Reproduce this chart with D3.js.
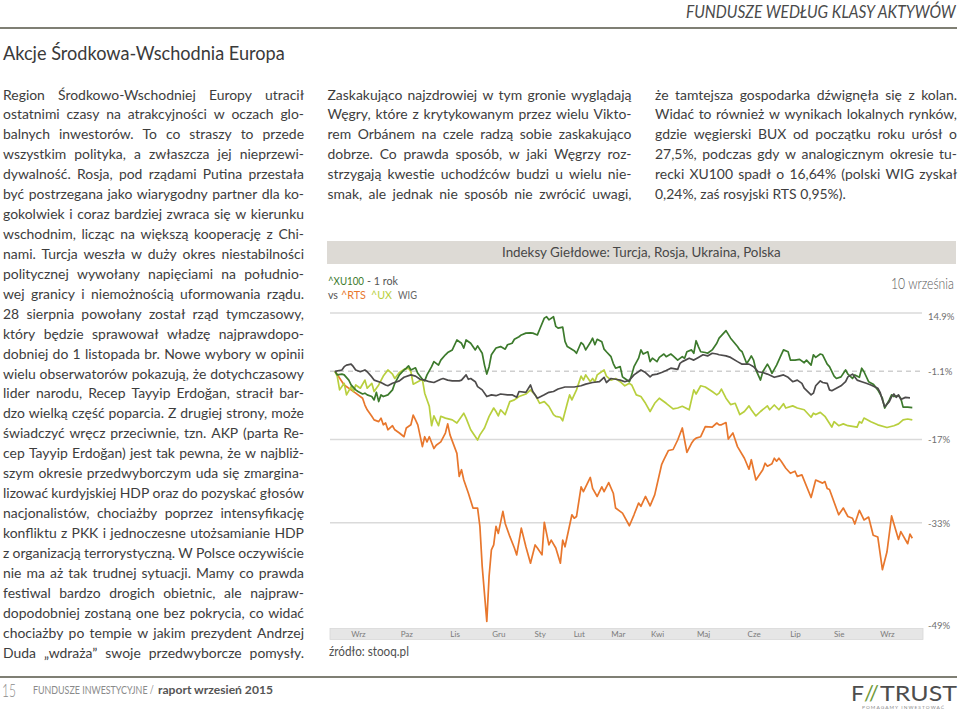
<!DOCTYPE html>
<html><head><meta charset="utf-8">
<script src="https://cdn.jsdelivr.net/npm/d3@7"></script>
<style>body{margin:0;background:#fff} svg{display:block} text{font-family:Lato,"Open Sans",sans-serif}</style>
</head><body><script>
// ---------- texts ----------
const headerTitle = "FUNDUSZE WEDŁUG KLASY AKTYWÓW";
const sectionTitle = "Akcje Środkowa-Wschodnia Europa";
const chartTitle = "Indeksy Giełdowe: Turcja, Rosja, Ukraina, Polska";
const dateLabel = "10 września";
const sourceLabel = "źródło: stooq.pl";
const seriesNames = ["^XU100", "^RTS", "^UX", "WIG"];
const leftLines = [
"Region Środkowo-Wschodniej Europy utracił",
"ostatnimi czasy na atrakcyjności w oczach glo-",
"balnych inwestorów. To co straszy to przede",
"wszystkim polityka, a zwłaszcza jej nieprzewi-",
"dywalność. Rosja, pod rządami Putina przestała",
"być postrzegana jako wiarygodny partner dla ko-",
"gokolwiek i coraz bardziej zwraca się w kierunku",
"wschodnim, licząc na większą kooperację z Chi-",
"nami. Turcja weszła w duży okres niestabilności",
"politycznej wywołany napięciami na południo-",
"wej granicy i niemożnością uformowania rządu.",
"28 sierpnia powołany został rząd tymczasowy,",
"który będzie sprawował władzę najprawdopo-",
"dobniej do 1 listopada br. Nowe wybory w opinii",
"wielu obserwatorów pokazują, że dotychczasowy",
"lider narodu, Recep Tayyip Erdoğan, stracił bar-",
"dzo wielką część poparcia. Z drugiej strony, może",
"świadczyć wręcz przeciwnie, tzn. AKP (parta Re-",
"cep Tayyip Erdoğan) jest tak pewna, że w najbliż-",
"szym okresie przedwyborczym uda się zmargina-",
"lizować kurdyjskiej HDP oraz do pozyskać głosów",
"nacjonalistów, chociażby poprzez intensyfikację",
"konfliktu z PKK i jednoczesne utożsamianie HDP",
"z organizacją terrorystyczną. W Polsce oczywiście",
"nie ma aż tak trudnej sytuacji. Mamy co prawda",
"festiwal bardzo drogich obietnic, ale najpraw-",
"dopodobniej zostaną one bez pokrycia, co widać",
"chociażby po tempie w jakim prezydent Andrzej",
"Duda „wdraża” swoje przedwyborcze pomysły."];
const midLines = [
"Zaskakująco najzdrowiej w tym gronie wyglądają",
"Węgry, które z krytykowanym przez wielu Vikto-",
"rem Orbánem na czele radzą sobie zaskakująco",
"dobrze. Co prawda sposób, w jaki Węgrzy roz-",
"strzygają kwestie uchodźców budzi u wielu nie-",
"smak, ale jednak nie sposób nie zwrócić uwagi,"];
const rightLines = [
"że tamtejsza gospodarka dźwignęła się z kolan.",
"Widać to również w wynikach lokalnych rynków,",
"gdzie węgierski BUX od początku roku urósł o",
"27,5%, podczas gdy w analogicznym okresie tu-",
"recki XU100 spadł o 16,64% (polski WIG zyskał",
"0,24%, zaś rosyjski RTS 0,95%)."];

// ---------- chart data: [session index, % change] ----------
const yTicks = [14.9, -1.1, -17, -33, -49];
const monthLabels = ["Wrz","Paz","Lis","Gru","Sty","Lut","Mar","Kwi","Maj","Cze","Lip","Sie","Wrz"];
const monthPos = [10,31,52,71,89,106,123,140,160,182,200,219,240];

const xu100 = [[0,-1.1],[1,-2.0],[3,-1.8],[4,-2.0],[6,-3.3],[7,-4.5],[9,-5.7],[10,-6.1],[12,-6.7],[13,-6.5],[14,-6.9],[16,-7.3],[17,-8.1],[18,-6.3],[19,-8.5],[20,-6.9],[21,-7.3],[23,-6.9],[25,-5.7],[26,-4.1],[28,-2.0],[30,-0.75],[31,-0.3],[32,0.3],[33,-0.75],[35,-0.2],[36,-1.6],[38,-3.1],[39,-3.5],[40,-2.0],[42,0.1],[43,1.4],[45,0.5],[46,1.8],[48,3.2],[49,3.8],[51,4.5],[53,7.2],[55,6.3],[56,5.0],[57,7.2],[59,6.3],[61,4.5],[62,5.6],[64,3.6],[65,0.5],[66,-1.8],[67,0.1],[68,3.2],[70,5.0],[72,5.4],[74,4.7],[75,5.9],[77,6.3],[78,7.4],[80,8.1],[81,8.6],[83,9.1],[85,9.2],[86,9.1],[88,8.6],[89,10.2],[91,13.4],[92,13.8],[93,12.9],[95,13.8],[96,11.0],[97,10.5],[99,10.8],[100,6.8],[101,5.4],[104,4.3],[105,3.6],[107,6.5],[108,5.9],[109,4.5],[111,6.5],[112,7.7],[113,5.9],[114,7.4],[116,6.7],[117,4.7],[118,4.0],[120,2.7],[121,0.9],[122,-0.3],[124,0.1],[125,-2.5],[126,-2.9],[128,-3.7],[129,-2.0],[130,0.1],[132,2.3],[133,4.5],[134,3.4],[136,4.0],[137,1.4],[138,2.3],[140,1.4],[141,2.5],[143,3.4],[144,2.7],[146,3.4],[147,2.9],[149,1.8],[151,2.7],[152,2.3],[153,4.0],[155,4.5],[156,3.6],[157,7.0],[158,5.4],[159,4.0],[161,3.8],[162,3.6],[164,4.5],[166,6.3],[167,7.7],[170,9.8],[172,7.7],[175,5.4],[176,4.5],[177,4.0],[179,0.9],[180,1.8],[181,2.9],[182,1.8],[183,-0.75],[185,-3.3],[186,-1.2],[188,0.75],[189,-0.3],[190,-1.6],[192,0.5],[194,3.2],[195,4.5],[197,4.0],[198,1.8],[200,1.8],[202,2.0],[204,1.1],[205,1.8],[207,0.5],[208,3.2],[209,2.5],[211,3.4],[212,3.2],[214,0.75],[215,0.1],[217,-2.3],[218,-2.9],[220,-2.5],[222,-0.75],[223,-1.8],[225,-2.9],[226,-2.0],[228,-2.6],[229,-0.3],[230,-1.2],[232,-3.7],[234,-4.3],[236,-5.7],[238,-7.7],[239,-10.0],[241,-8.1],[242,-6.9],[243,-7.3],[245,-7.1],[246,-7.7],[247,-9.8],[249,-9.8],[251,-9.9]];

const rts = [[0,-1.1],[4,-4.5],[7,-5.7],[9,-6.5],[12,-7.7],[13,-9.3],[14,-10.4],[16,-11.9],[17,-12.7],[19,-13.1],[20,-12.3],[21,-13.8],[22,-13.4],[23,-14.9],[25,-14.0],[26,-14.9],[28,-15.6],[30,-16.4],[31,-14.5],[33,-13.8],[34,-11.6],[35,-12.7],[36,-13.8],[38,-18.5],[39,-16.4],[40,-17.5],[41,-16.4],[43,-18.9],[44,-18.2],[46,-17.5],[48,-15.6],[49,-13.6],[50,-16.0],[53,-19.9],[54,-24.5],[55,-23.2],[56,-25.2],[58,-27.7],[60,-30.4],[62,-30.4],[63,-33.6],[64,-40.1],[66,-48.0],[67,-41.6],[68,-37.5],[69,-36.7],[70,-33.6],[71,-34.8],[73,-31.0],[74,-33.1],[76,-35.3],[78,-37.2],[79,-38.3],[81,-33.9],[83,-37.0],[85,-39.6],[87,-36.7],[88,-37.2],[90,-38.3],[91,-32.9],[93,-36.7],[94,-35.9],[96,-37.2],[98,-39.6],[99,-35.9],[100,-37.0],[103,-31.6],[104,-32.2],[105,-31.9],[107,-26.5],[108,-27.4],[111,-24.7],[112,-26.8],[114,-28.3],[116,-26.5],[117,-27.4],[119,-25.7],[121,-27.7],[122,-30.4],[125,-31.3],[128,-33.5],[130,-31.6],[132,-29.5],[133,-30.1],[135,-28.3],[137,-30.0],[139,-28.0],[142,-22.2],[143,-21.2],[145,-19.3],[147,-19.1],[149,-17.1],[151,-14.5],[153,-19.7],[155,-17.8],[156,-17.1],[157,-16.7],[159,-16.4],[161,-14.2],[164,-14.3],[166,-13.4],[167,-13.8],[168,-13.8],[170,-13.3],[171,-16.9],[173,-15.6],[175,-18.5],[178,-20.9],[180,-23.1],[181,-21.2],[183,-25.2],[186,-23.2],[187,-21.9],[188,-22.5],[190,-22.0],[191,-20.9],[192,-21.5],[193,-20.9],[194,-21.5],[196,-22.9],[198,-23.9],[200,-23.5],[201,-24.5],[203,-24.2],[207,-28.5],[209,-25.2],[212,-25.8],[213,-25.5],[214,-26.8],[215,-27.0],[219,-31.6],[221,-30.4],[223,-31.9],[225,-32.2],[226,-33.2],[228,-30.8],[230,-32.5],[232,-32.0],[234,-35.1],[236,-35.4],[238,-40.6],[240,-37.8],[242,-31.8],[245,-35.8],[246,-34.5],[249,-36.5],[250,-34.9],[251,-35.6]];

const ux = [[0,-1.1],[1,-2.4],[2,-5.7],[4,-4.1],[5,-6.9],[7,-4.9],[8,-6.1],[9,-4.5],[11,-5.3],[13,-3.3],[14,-5.3],[16,-4.1],[17,-6.1],[19,-4.5],[21,-2.3],[23,-0.75],[25,-1.8],[26,-2.9],[28,-1.4],[30,-0.6],[32,-0.3],[33,-1.2],[34,-4.3],[36,-3.7],[38,-3.1],[39,-6.5],[41,-9.6],[42,-14.0],[43,-11.8],[45,-14.0],[46,-11.9],[48,-12.3],[51,-12.7],[53,-13.4],[56,-11.2],[57,-12.3],[59,-14.9],[62,-17.1],[63,-16.0],[65,-14.5],[67,-11.9],[69,-10.0],[70,-10.8],[71,-11.8],[72,-10.4],[74,-11.5],[76,-8.5],[78,-8.1],[80,-7.3],[83,-6.7],[85,-5.7],[87,-6.9],[89,-8.9],[91,-8.5],[93,-9.6],[95,-11.5],[96,-11.9],[98,-12.1],[99,-12.9],[101,-8.9],[102,-6.9],[103,-8.1],[105,-5.7],[107,-2.3],[108,-3.3],[109,-2.0],[111,-3.7],[112,-2.9],[113,-3.7],[114,-2.0],[117,-0.75],[118,-2.3],[120,-3.3],[122,-2.9],[124,-3.7],[126,-4.7],[128,-4.1],[129,-4.5],[131,-6.9],[133,-7.3],[135,-8.9],[137,-10.8],[139,-8.9],[141,-7.7],[144,-8.9],[147,-10.2],[149,-10.0],[151,-9.6],[154,-10.4],[156,-5.7],[157,-6.7],[159,-4.7],[161,-5.0],[164,-6.1],[166,-6.9],[167,-6.5],[168,-5.5],[170,-7.7],[172,-9.2],[174,-8.9],[176,-11.5],[178,-10.8],[180,-9.5],[181,-10.4],[183,-11.8],[185,-10.8],[188,-9.5],[189,-10.4],[191,-9.3],[193,-10.4],[195,-9.0],[196,-10.0],[199,-9.5],[201,-10.0],[204,-10.4],[207,-12.1],[208,-11.2],[209,-11.5],[211,-11.0],[213,-11.9],[216,-14.3],[217,-13.1],[219,-14.0],[221,-13.6],[223,-14.0],[227,-14.3],[228,-13.1],[229,-13.4],[230,-12.3],[233,-13.1],[236,-13.8],[240,-14.4],[243,-14.0],[245,-13.6],[247,-12.7],[249,-12.5],[251,-12.7]];

const wig = [[0,-1.1],[3,-0.75],[4,0.1],[5,0.5],[7,0.75],[8,0.1],[9,-0.75],[11,-1.2],[13,-0.75],[14,-1.2],[16,-2.5],[17,-3.3],[20,-3.9],[22,-4.5],[23,-4.7],[25,-4.1],[28,-3.5],[30,-2.6],[33,-2.0],[35,-2.3],[37,-3.1],[39,-3.3],[41,-3.7],[43,-3.9],[46,-3.1],[47,-2.9],[49,-3.3],[51,-3.5],[54,-3.5],[55,-3.3],[57,-2.0],[58,-3.1],[59,-2.9],[61,-3.7],[62,-4.9],[64,-5.7],[66,-7.3],[68,-6.9],[70,-7.1],[72,-6.7],[75,-6.9],[77,-6.9],[79,-7.5],[80,-6.1],[83,-6.3],[85,-4.5],[86,-6.1],[88,-7.7],[91,-6.9],[93,-6.3],[95,-6.1],[97,-5.5],[100,-5.0],[104,-5.0],[107,-4.7],[109,-4.3],[112,-3.9],[115,-3.7],[117,-2.6],[118,-3.9],[120,-2.9],[122,-3.1],[124,-3.3],[126,-3.7],[128,-3.3],[130,-2.0],[133,-0.75],[135,-1.4],[137,-2.5],[138,-2.0],[140,-1.8],[142,-1.4],[144,-0.9],[146,-0.3],[149,-0.6],[150,0.95],[151,1.4],[154,2.3],[156,1.8],[158,2.5],[160,3.2],[162,2.9],[164,3.6],[166,3.4],[167,3.2],[170,2.9],[172,2.5],[175,1.4],[177,0.75],[180,0.75],[182,0.1],[184,-1.2],[186,-1.4],[188,-1.8],[191,-2.6],[193,-2.3],[195,-2.0],[197,-2.6],[199,-3.7],[201,-3.3],[203,-4.1],[204,-5.3],[207,-6.9],[208,-6.5],[209,-4.7],[211,-3.5],[212,-3.9],[214,-4.1],[215,-5.7],[216,-5.9],[218,-5.3],[220,-4.7],[222,-3.7],[223,-2.5],[225,-1.8],[227,-3.3],[229,-3.7],[231,-4.1],[233,-4.5],[236,-5.3],[237,-6.3],[238,-8.1],[239,-9.7],[241,-8.5],[242,-7.3],[243,-6.7],[244,-7.5],[245,-6.9],[246,-8.0],[248,-7.5],[250,-7.6]];

const seriesColors = {"^XU100":"#3c7a2c","^RTS":"#e8772d","^UX":"#b8cf3e","WIG":"#4d4b4b"};

// ---------- helpers ----------
const svg = d3.select("body").append("svg").attr("width",960).attr("height",712);
// text kept at its font size and squeezed/stretched horizontally to a given width
function fitText(parent, str, x, y, width, size, attrs) {
  const t = parent.append("text").attr("x", x).attr("y", y).attr("font-size", size).text(str);
  Object.entries(attrs || {}).forEach(([k,v]) => t.attr(k, v));
  const w = t.node().getComputedTextLength();
  const sx = width / w;
  t.attr("transform", `translate(${x},0) scale(${sx},1) translate(${-x},0)`);
  return t;
}

// ---------- page ----------
fitText(svg, headerTitle, 686, 18, 270, 17, {"font-style":"italic", fill:"#4a4a4a"});
svg.append("line").attr("x1",0).attr("x2",957).attr("y1",28).attr("y2",28).attr("stroke","#7f7f74").attr("stroke-width",2);
fitText(svg, sectionTitle, 3, 60, 282, 19, {fill:"#3a3a3a"});

// justified body text
const bodyG = svg.append("g").attr("font-size",14).attr("fill","#3d3d3d");
const blocks = [
  {lines:leftLines, x:3, w:301, justifyLast:true},
  {lines:midLines, x:327.5, w:304, justifyLast:true},
  {lines:rightLines, x:655, w:302, justifyLast:false}
];
const y0 = 99.5, lh = 19.93, MINGAP = 3.2, SPACE = 3.6;
blocks.forEach(b => {
  b.rows = b.lines.map((line,i) => {
    const words = line.split(" ");
    const nodes = words.map(w => bodyG.append("text").attr("y", y0 + i*lh).text(w));
    const ws = nodes.map(n => n.node().getComputedTextLength());
    return {nodes, ws, justify: (i < b.lines.length-1) || b.justifyLast};
  });
});
let K = 1;
blocks.forEach(b => b.rows.forEach(r => {
  if (r.justify && r.nodes.length > 1) {
    K = Math.min(K, (b.w - MINGAP*(r.nodes.length-1)) / d3.sum(r.ws));
  }
}));
blocks.forEach(b => b.rows.forEach(r => {
  const n = r.nodes.length;
  const gap = (r.justify && n > 1) ? (b.w - K*d3.sum(r.ws))/(n-1) : SPACE;
  let x = b.x;
  r.nodes.forEach((nd,j) => {
    nd.attr("x", x).attr("textLength", r.ws[j]*K).attr("lengthAdjust","spacingAndGlyphs");
    x += r.ws[j]*K + gap;
  });
}));

// ---------- chart ----------
svg.append("rect").attr("x",327).attr("y",241).attr("width",629).attr("height",23).attr("fill","#dddad5");
fitText(svg, chartTitle, 502, 257, 279, 14, {fill:"#474747"});

fitText(svg, seriesNames[0], 328, 285.5, 36, 11, {fill:seriesColors["^XU100"]});
fitText(svg, "- 1 rok", 367, 285.5, 31, 11, {fill:"#555"});
fitText(svg, "vs", 328, 299, 10, 11, {fill:"#555"});
fitText(svg, seriesNames[1], 341, 299, 25, 11, {fill:seriesColors["^RTS"]});
fitText(svg, seriesNames[2], 371, 299, 21, 11, {fill:seriesColors["^UX"]});
fitText(svg, seriesNames[3], 398, 299, 19, 11, {fill:"#666"});

fitText(svg, dateLabel, 891, 289, 63, 15, {fill:"#5a5a5a", "font-weight":300});

const x = d3.scaleLinear().domain([0,252]).range([335,914.6]);
const yLog = d3.scaleLog().domain([0.51,1.149]).range([629,313]);
const y = p => yLog(1 + p/100);

// grid
svg.append("g").selectAll("line").data(yTicks.filter(t => t > -49)).join("line")
  .attr("x1",330).attr("x2",922).attr("y1",d=>y(d)).attr("y2",d=>y(d))
  .attr("stroke",d => d === -1.1 ? "#cfcfcf" : "#dadada")
  .attr("stroke-width",1.5)
  .attr("stroke-dasharray",d => d === -1.1 ? "5,4" : null);

// month band + axis
svg.append("rect").attr("x",330).attr("y",628.5).attr("width",593).attr("height",11)
  .attr("fill","#e6e6e6").attr("stroke","#d8d8d8").attr("stroke-width",0.8);
const xAxis = svg.append("g").attr("transform","translate(0,634)")
  .call(d3.axisBottom(x).tickValues(monthPos).tickFormat((d,i)=>monthLabels[i]).tickSize(0).tickPadding(0));
xAxis.select(".domain").remove();
xAxis.selectAll("text").attr("y",0).attr("dy","0.35em").attr("font-size",8).attr("fill","#7a7a7a")
  .attr("font-family","Lato, sans-serif");

// y axis labels
const yAxis = svg.append("g").attr("transform","translate(928,0)")
  .call(d3.axisRight(yLog).tickValues(yTicks.map(t=>1+t/100))
    .tickFormat((d,i)=>yTicks[i]+"%").tickSize(0).tickPadding(0));
yAxis.select(".domain").remove();
yAxis.selectAll("text").attr("font-size",9.5).attr("fill","#707070").attr("font-family","Lato, sans-serif")
  .attr("dy",(d,i)=> i===0 ? "0.7em" : (i===4 ? "-0.05em" : "0.35em"));

// lines
const line = d3.line().x(d=>x(d[0])).y(d=>y(d[1]));
const seriesData = [["^RTS",rts],["^UX",ux],["^XU100",xu100],["WIG",wig]];
svg.append("g").selectAll("path").data(seriesData).join("path")
  .attr("d",d=>line(d[1])).attr("fill","none")
  .attr("stroke",d=>seriesColors[d[0]]).attr("stroke-width",1.7).attr("stroke-linejoin","round");

fitText(svg, sourceLabel, 329, 656, 80, 14, {fill:"#505050"});

// ---------- footer ----------
svg.append("line").attr("x1",0).attr("x2",957).attr("y1",677).attr("y2",677).attr("stroke","#7f7f74").attr("stroke-width",2);
fitText(svg, "15", 2, 697, 14, 17, {"font-weight":300, fill:"#8a8a8a"});
fitText(svg, "FUNDUSZE INWESTYCYJNE /", 33, 694.5, 121, 12, {fill:"#8a8a8a"});
fitText(svg, "raport wrzesień 2015", 158, 694.5, 115, 12, {"font-weight":700, fill:"#555"});
fitText(svg, "F", 851, 701, 13, 21, {fill:"#4d4d4d"});
fitText(svg, "//", 864, 701, 15, 21, {fill:"#6f9a3a"});
fitText(svg, "TRUST", 880, 701, 77, 21, {fill:"#4d4d4d"});
fitText(svg, "POMAGAMY INWESTOWAĆ", 862, 709.5, 83, 4.6, {fill:"#8a8a8a", "letter-spacing":1});
</script></body></html>
